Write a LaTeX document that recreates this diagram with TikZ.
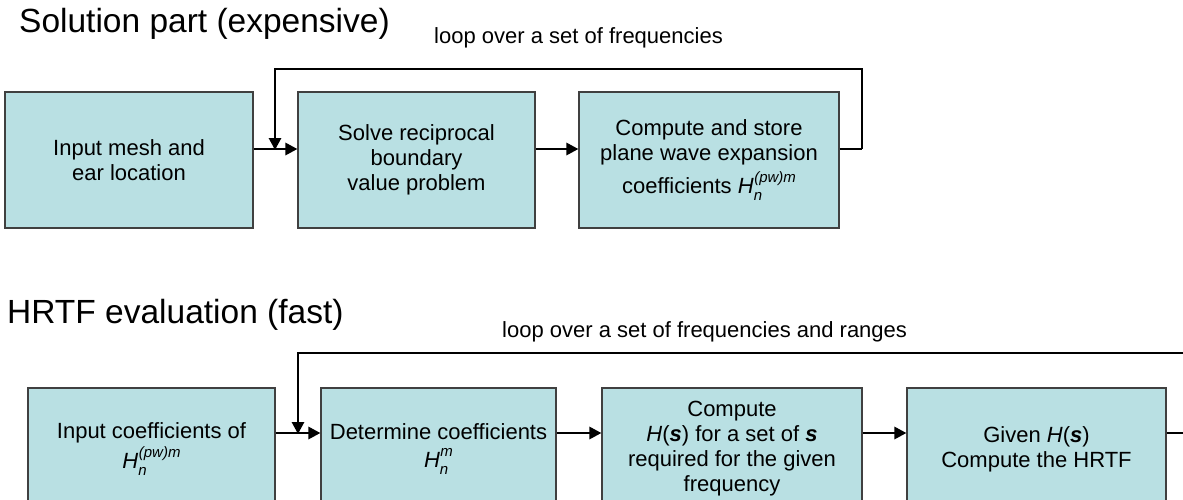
\documentclass[tikz,border=0pt]{standalone}
\usepackage{fontspec}
\setmainfont{Liberation Sans}
\usetikzlibrary{arrows.meta}
\definecolor{boxfill}{RGB}{185,224,227}
\definecolor{boxline}{RGB}{64,64,64}
\newcommand\HnSub[2]{\textit{H}\rlap{\raisebox{-0.32em}{\fontsize{15}{15}\selectfont\itshape #1}}\raisebox{0.5em}{\fontsize{15}{15}\selectfont\itshape\kern0.5pt #2}}
\begin{document}
\begin{tikzpicture}[x=1pt,y=-1pt,
  stepbox/.style={draw=boxline, line width=1.1pt, fill=boxfill, align=center,
    inner sep=0pt, font=\fontsize{22}{25}\selectfont},
  topbox/.style={stepbox, minimum height=136pt},
  botbox/.style={stepbox, minimum height=122pt},
  title/.style={anchor=base west, inner sep=0pt, font=\fontsize{33.5}{40}\selectfont},
  looplabel/.style={anchor=base west, inner sep=0pt, font=\fontsize{22}{26}\selectfont},
  arr/.style={line width=2.8pt, -{Triangle[length=12pt,width=12pt]}},
  loopline/.style={line width=2.8pt},
  thinline/.style={line width=1.1pt}]
\useasboundingbox (0,0) rectangle (1183,499);
\clip (0,0) rectangle (1183,499);

% titles and labels
\node[title] (t1) at (19,32) {Solution part (expensive)};
\node[looplabel] (l1) at (434,43) {loop over a set of frequencies};
\node[title] (t2) at (7,323) {HRTF evaluation (fast)};
\node[looplabel] (l2) at (502,337) {loop over a set of frequencies and ranges};

% top row
\node[topbox, minimum width=248pt] (a1) at (129,160) {Input mesh and\\ear location};
\node[topbox, minimum width=237pt] (a2) at (416.5,160) {Solve reciprocal\\boundary\\value problem};
\node[topbox, minimum width=260pt] (a3) at (709,160) {Compute and store\\plane wave expansion\\[5pt]coefficients \HnSub{n}{(pw)m}};

\draw[arr] ([yshift=11pt]a1.east) -- ([yshift=11pt]a2.west);
\draw[arr] ([yshift=11pt]a3.west -| a2.east) -- ([yshift=11pt]a3.west);

\coordinate (r1) at (862,149);
\coordinate (r2) at (862,69);
\coordinate (r3) at (275,69);
\coordinate (r4) at (275,149);
\draw[thinline] ([yshift=11pt]a3.east) -- (r1);
\draw[loopline, line join=miter] (r1) -- (r2) -- (r3) -- ([yshift=8pt]r4);
\draw[arr] ([yshift=10pt]r4) -- ([yshift=-1pt]r4);

% bottom row
\node[botbox, minimum width=247pt] (b1) at (151.5,449) {Input coefficients of\\[3pt]\HnSub{n}{(pw)m}};
\node[botbox, minimum width=235pt] (b2) at (438.5,449) {Determine coefficients\\[3pt]\HnSub{n}{m}};
\node[botbox, minimum width=260pt] (b3) at (732,449) {Compute\\\textit{H}(\textbf{\textit{s}}) for a set of \textbf{\textit{s}}\\required for the given\\frequency};
\node[botbox, minimum width=259pt] (b4) at (1036.5,449) {Given \textit{H}(\textbf{\textit{s}})\\Compute the HRTF};

\draw[arr] ([yshift=16pt]b1.east) -- ([yshift=16pt]b2.west);
\draw[arr] ([yshift=16pt]b2.east) -- ([yshift=16pt]b3.west);
\draw[arr] ([yshift=16pt]b3.east) -- ([yshift=16pt]b4.west);

\coordinate (s1) at (1195,353);
\coordinate (s2) at (298,353);
\coordinate (s3) at (298,433);
\coordinate (s4) at (1195,433);
\draw[loopline, line join=miter] (s1) -- (s2) -- ([yshift=8pt]s3);
\draw[arr] ([yshift=10pt]s3) -- ([yshift=-1pt]s3);
\draw[thinline] ([yshift=16pt]b4.east) -- (s4);
\end{tikzpicture}
\end{document}
